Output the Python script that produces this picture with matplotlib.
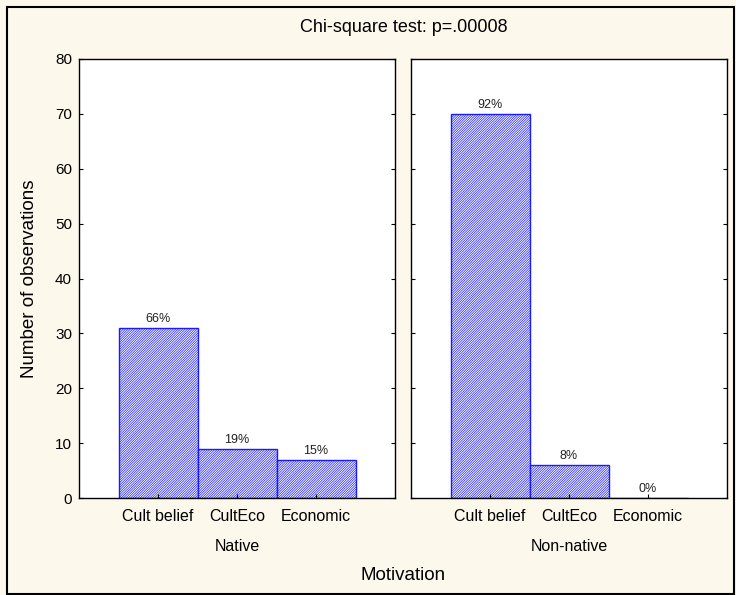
import matplotlib.pyplot as plt
from matplotlib.patches import Rectangle

# Data
categories = ['Cult belief', 'CultEco', 'Economic']
groups = ['Native', 'Non-native']
counts = {
    'Native': [31, 9, 7],
    'Non-native': [70, 6, 0],
}
pct_labels = {
    'Native': ['66%', '19%', '15%'],
    'Non-native': ['92%', '8%', '0%'],
}
y_ticks = [0, 10, 20, 30, 40, 50, 60, 70, 80]

plt.rcParams['font.family'] = ['Liberation Sans', 'DejaVu Sans']
plt.rcParams['hatch.linewidth'] = 0.5
plt.rcParams['hatch.color'] = '#2a2aff'

BG = '#FDF8EC'
BLUE = '#1a1aff'

fig = plt.figure(figsize=(7.36, 5.95), dpi=100, facecolor=BG)

# outer frame
fig.patches.append(Rectangle((7 / 736, 0.002), 727 / 736, 1 - 7 / 595 - 0.002,
                             transform=fig.transFigure, fill=False,
                             edgecolor='black', linewidth=1.5))

panel_lefts = [79 / 736, 411 / 736]
panel_width = 316 / 736
bottom = 1 - 498 / 595
height = (498 - 59) / 595

for i, grp in enumerate(groups):
    ax = fig.add_axes([panel_lefts[i], bottom, panel_width, height])
    ax.set_facecolor('white')
    x = list(range(len(categories)))
    bars = ax.bar(x, counts[grp], width=1.0, color='white', edgecolor=BLUE,
                  hatch='/' * 14, linewidth=1.0)
    for b, lab in zip(bars, pct_labels[grp]):
        ax.text(b.get_x() + b.get_width() / 2, b.get_height() + 0.5, lab,
                ha='center', va='bottom', fontsize=9, color='#222222')
    ax.set_xlim(-1, 3)
    ax.set_ylim(0, 80)
    ax.set_yticks(y_ticks)
    ax.set_xticks(x)
    ax.set_xticklabels(categories, fontsize=11.5)
    ax.tick_params(axis='both', direction='in', length=3, width=0.8,
                   right=True, labelsize=11, pad=5)
    ax.tick_params(axis='x', labelsize=11.5, pad=8)
    if i == 1:
        ax.tick_params(axis='y', labelleft=False)
    for s in ax.spines.values():
        s.set_linewidth(1.0)
    ax.set_xlabel(grp, fontsize=11.5, labelpad=11)
    if i == 0:
        ax.set_ylabel('Number of observations', fontsize=13.5, labelpad=12)

fig.text((79 + 728) / 2 / 736, 1 - 575 / 595, 'Motivation', ha='center',
         va='center', fontsize=13.5)
fig.text((79 + 728) / 2 / 736, 1 - 27 / 595, 'Chi-square test: p=.00008',
         ha='center', va='center', fontsize=13)

fig.savefig('out.png', dpi=100, facecolor=BG)
